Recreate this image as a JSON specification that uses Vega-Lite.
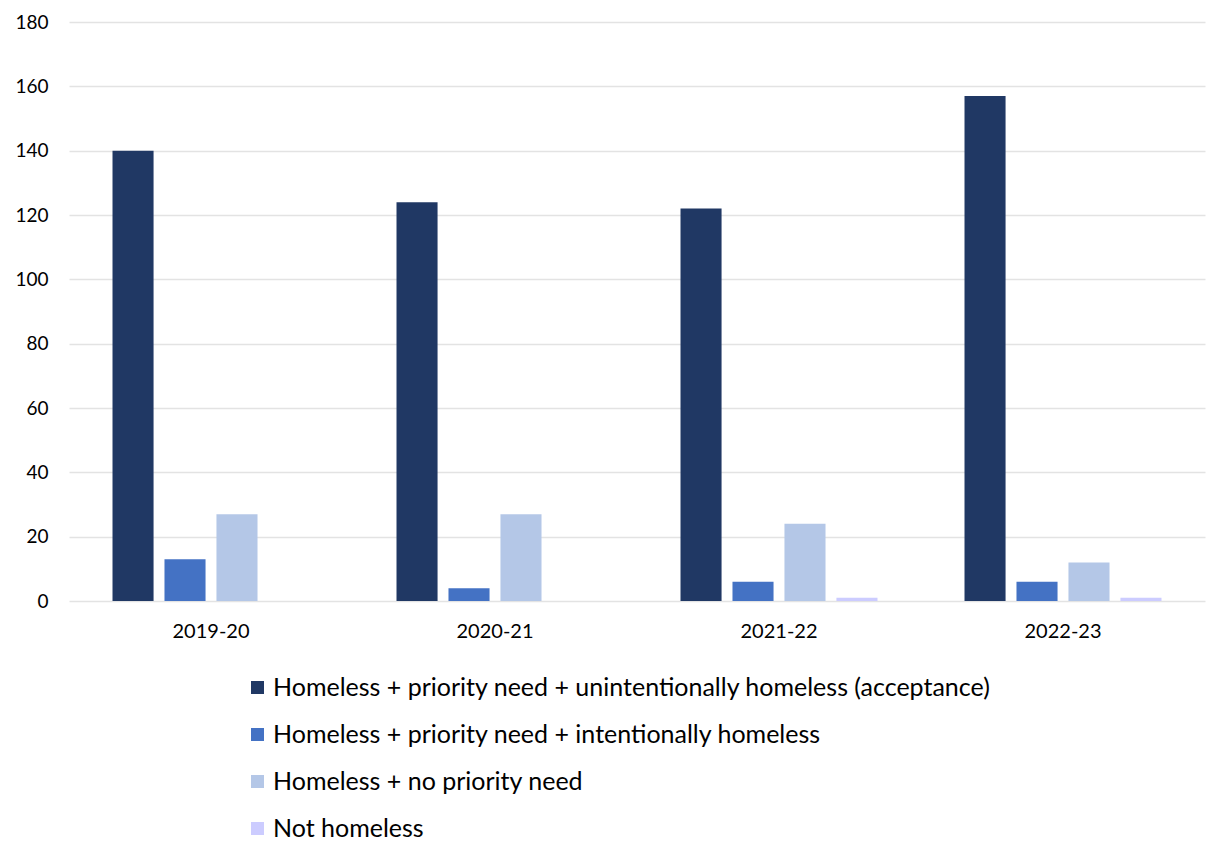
{
  "$schema": "https://vega.github.io/schema/vega-lite/v6.json",
  "width": 1136,
  "height": 579,
  "autosize": "none",
  "padding": {"left": 69, "top": 22, "right": 6, "bottom": 240},
  "background": "white",
  "config": {
    "view": {"stroke": null},
    "font": "Lato"
  },
  "data": {
    "values": [
      {"year": "2019-20", "cat": "Homeless + priority need + unintentionally homeless (acceptance)", "value": 140},
      {"year": "2019-20", "cat": "Homeless + priority need + intentionally homeless", "value": 13},
      {"year": "2019-20", "cat": "Homeless + no priority need", "value": 27},
      {"year": "2019-20", "cat": "Not homeless", "value": 0},
      {"year": "2020-21", "cat": "Homeless + priority need + unintentionally homeless (acceptance)", "value": 124},
      {"year": "2020-21", "cat": "Homeless + priority need + intentionally homeless", "value": 4},
      {"year": "2020-21", "cat": "Homeless + no priority need", "value": 27},
      {"year": "2020-21", "cat": "Not homeless", "value": 0},
      {"year": "2021-22", "cat": "Homeless + priority need + unintentionally homeless (acceptance)", "value": 122},
      {"year": "2021-22", "cat": "Homeless + priority need + intentionally homeless", "value": 6},
      {"year": "2021-22", "cat": "Homeless + no priority need", "value": 24},
      {"year": "2021-22", "cat": "Not homeless", "value": 1},
      {"year": "2022-23", "cat": "Homeless + priority need + unintentionally homeless (acceptance)", "value": 157},
      {"year": "2022-23", "cat": "Homeless + priority need + intentionally homeless", "value": 6},
      {"year": "2022-23", "cat": "Homeless + no priority need", "value": 12},
      {"year": "2022-23", "cat": "Not homeless", "value": 1}
    ]
  },
  "mark": {"type": "bar"},
  "encoding": {
    "x": {
      "field": "year", "type": "nominal", "sort": null,
      "scale": {"paddingInner": 0, "paddingOuter": 0},
      "axis": {"title": null, "labelAngle": 0, "labelFontSize": 20, "labelColor": "#000000", "ticks": false, "domain": false, "labelPadding": 20}
    },
    "xOffset": {
      "field": "cat", "type": "nominal", "sort": null,
      "scale": {"paddingInner": 0.21, "paddingOuter": 0.837}
    },
    "y": {
      "field": "value", "type": "quantitative",
      "scale": {"domain": [0, 180], "nice": false},
      "axis": {"title": null, "values": [0,20,40,60,80,100,120,140,160,180], "labelFontSize": 19, "labelColor": "#000000", "ticks": false, "domain": false, "labelPadding": 21, "gridColor": "#E3E3E3", "gridWidth": 1.5}
    },
    "color": {
      "field": "cat", "type": "nominal", "sort": null,
      "scale": {
        "domain": ["Homeless + priority need + unintentionally homeless (acceptance)", "Homeless + priority need + intentionally homeless", "Homeless + no priority need", "Not homeless"],
        "range": ["#203864", "#4472C4", "#B4C7E7", "#CCCCFF"]
      },
      "legend": {
        "title": null, "orient": "none", "legendX": 176, "legendY": 653,
        "direction": "vertical", "symbolType": "square", "symbolSize": 170,
        "symbolStrokeWidth": 0, "labelFontSize": 25, "labelColor": "#000000",
        "rowPadding": 21, "labelOffset": 3, "labelLimit": 1000
      }
    }
  }
}
